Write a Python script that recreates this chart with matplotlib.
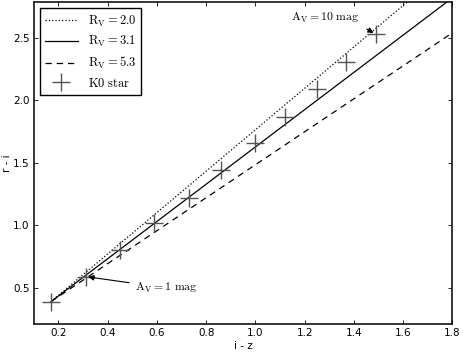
import matplotlib
matplotlib.use("Agg")
from matplotlib import pyplot as plt

# Reddening vectors in the (i - z, r - i) plane, starting at the unreddened K0 star
iz_line = [0.17, 1.8]
ri_rv20 = [0.39, 3.09]
ri_rv31 = [0.39, 2.82]
ri_rv53 = [0.39, 2.54]

# K0 star colours for A_V = 0 .. 10 mag
k0_iz = [0.17, 0.31, 0.45, 0.59, 0.73, 0.86, 1.00, 1.12, 1.25, 1.37, 1.49]
k0_ri = [0.39, 0.59, 0.80, 1.02, 1.22, 1.44, 1.66, 1.87, 2.09, 2.31, 2.53]

plt.rcParams["mathtext.fontset"] = "cm"
plt.rcParams["font.size"] = 7.5

fig = plt.figure(figsize=(4.63, 3.52), dpi=100)
ax = fig.add_axes([0.073, 0.080, 0.904, 0.914])

ax.plot(iz_line, ri_rv20, ":", color="k", lw=0.9, label=r"$\mathrm{R_V=2.0}$")
ax.plot(iz_line, ri_rv31, "-", color="k", lw=0.9, label=r"$\mathrm{R_V=3.1}$")
ax.plot(iz_line, ri_rv53, "--", color="k", lw=0.9, dashes=(5, 4), label=r"$\mathrm{R_V=5.3}$")
ax.plot(k0_iz, k0_ri, "+", color="0.33", ms=13, mew=1.0, ls="none", label=r"$\mathrm{K0\ star}$")

ax.annotate(r"$\mathrm{A_V=1\ mag}$", xy=(k0_iz[1], k0_ri[1]), xytext=(0.51, 0.5),
            fontsize=8.5, va="center",
            arrowprops=dict(arrowstyle="-|>", color="k", lw=0.8, mutation_scale=8,
                            shrinkA=2, shrinkB=2))
ax.annotate(r"$\mathrm{A_V=10\ mag}$", xy=(k0_iz[10], k0_ri[10]), xytext=(1.143, 2.66),
            fontsize=8.5, va="center", ha="left",
            arrowprops=dict(arrowstyle="-|>", color="k", lw=0.8, mutation_scale=8,
                            relpos=(1.0, 0.0), shrinkA=4, shrinkB=2))

ax.set_xlim(0.1, 1.8)
ax.set_ylim(0.212, 2.786)
ax.set_xticks([0.2, 0.4, 0.6, 0.8, 1.0, 1.2, 1.4, 1.6, 1.8])
ax.set_yticks([0.5, 1.0, 1.5, 2.0, 2.5])
ax.tick_params(direction="in", top=True, right=True, length=3, width=0.6, pad=3)
for s in ax.spines.values():
    s.set_linewidth(1.1)

ax.set_xlabel("i - z", labelpad=2)
ax.set_ylabel("r - i", labelpad=1)

leg = ax.legend(loc="upper left", fontsize=9, fancybox=False, framealpha=1,
                edgecolor="k", handlelength=2.6, borderpad=0.4, labelspacing=0.45,
                borderaxespad=0.5)
leg.get_frame().set_linewidth(1.0)

fig.savefig("out.png", dpi=100)
